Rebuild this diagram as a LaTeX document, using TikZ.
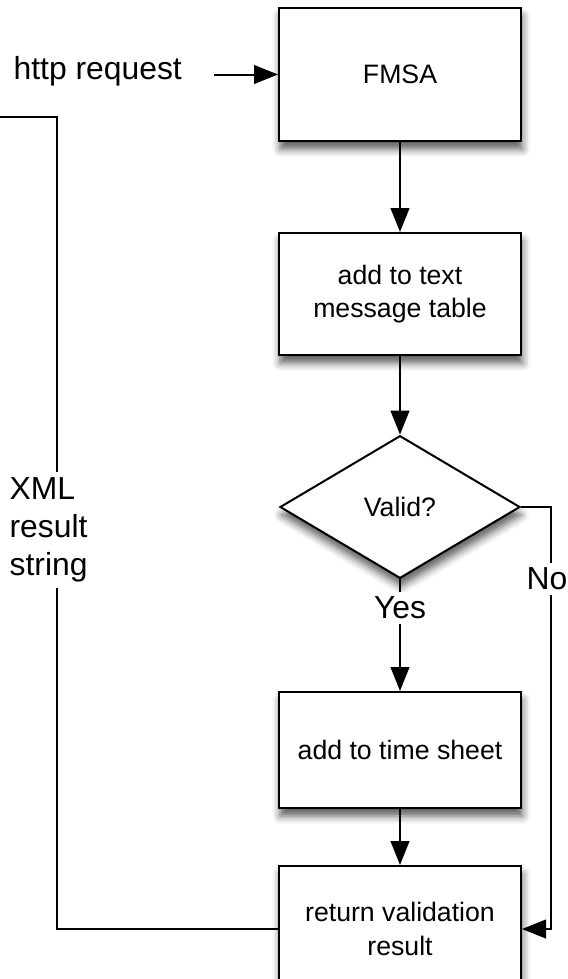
\documentclass[tikz,border=0pt]{standalone}
\usepackage{fontspec}
\setmainfont{Liberation Sans}
\usetikzlibrary{shapes.geometric,arrows.meta,shadows.blur}
\begin{document}
\begin{tikzpicture}[x=0.75pt,y=-0.75pt,
  procbox/.style={draw,line width=1.5pt,fill=white,minimum width=181.5pt,inner sep=0pt,align=center,
    font=\fontsize{20}{25}\selectfont,
    blur shadow={shadow xshift=1pt,shadow yshift=-6pt,shadow blur radius=6pt,shadow opacity=65}},
  decbox/.style={procbox,shape=diamond,minimum width=180pt,minimum height=107pt,aspect=1.68},
  conn/.style={line width=1.5pt},
  arr/.style={conn,-{Triangle[length=18pt,width=14pt]}},
  lbl/.style={font=\fontsize{23.9}{28.5}\selectfont,inner sep=1pt},
  gaplbl/.style={lbl,fill=white}]
\useasboundingbox (0,0) rectangle (568,979);
\node[procbox,minimum height=99.75pt] (fmsa) at (400,74.5) {FMSA};
\node[procbox,minimum height=91.5pt] (add) at (400,294) {add to text\\message table};
\node[decbox] (dia) at (400,507) {Valid?};
\node[procbox,minimum height=87pt] (ts) at (400,750) {add to time sheet};
\node[procbox,minimum height=94.5pt] (ret) at (400,929) {return validation\\result};
% http request
\node[lbl,anchor=base west] (http) at (12,79) {http request};
\coordinate (hs) at (214,74.5);
\draw[arr] (hs) -- (fmsa.west);
\draw[arr] (fmsa) -- (add);
\draw[arr] (add) -- (dia.north);
\draw[arr] (dia.south) -- (ts.north);
\node[gaplbl,inner ysep=4pt] (yes) at (400,608) {Yes};
\draw[arr] (ts) -- (ret);
% No branch
\coordinate (cn) at (551,507);
\draw[arr] (dia.east) -- (cn) |- (ret.east);
\node[gaplbl,inner xsep=0pt,inner ysep=4pt] (no) at (547,579) {No};
% XML result string feedback
\coordinate (c1) at (57,117);
\coordinate (c0) at (0,117);
\draw[conn] (ret.west) -| (c1) -- (c0);
\node[gaplbl,align=left,anchor=west,inner ysep=4pt] (xml) at (8,530) {XML\\result\\string};
\end{tikzpicture}
\end{document}
